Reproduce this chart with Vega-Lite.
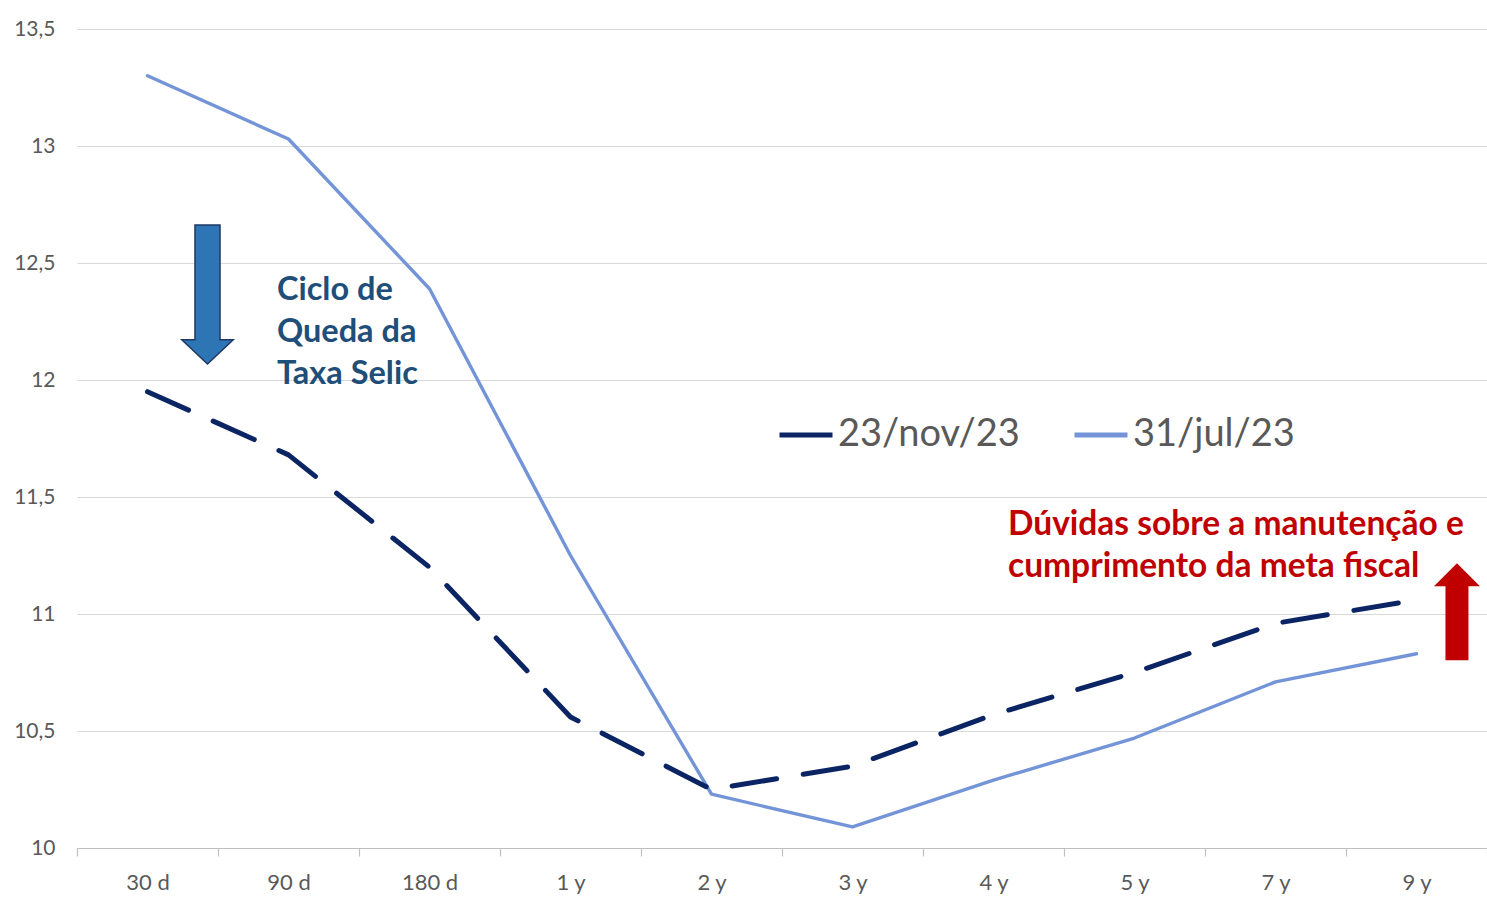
{
  "$schema": "https://vega.github.io/schema/vega-lite/v6.json",
  "width": 1410,
  "height": 819,
  "autosize": {"type": "none"},
  "padding": {"left": 77, "top": 29, "right": 0, "bottom": 61},
  "background": "#ffffff",
  "config": {
    "view": {"stroke": null},
    "font": "Lato"
  },
  "datasets": {
    "curvas": [
      {"prazo": "30 d", "i": 0, "serie": "31/jul/23", "taxa": 13.30},
      {"prazo": "90 d", "i": 1, "serie": "31/jul/23", "taxa": 13.03},
      {"prazo": "180 d", "i": 2, "serie": "31/jul/23", "taxa": 12.39},
      {"prazo": "1 y", "i": 3, "serie": "31/jul/23", "taxa": 11.25},
      {"prazo": "2 y", "i": 4, "serie": "31/jul/23", "taxa": 10.23},
      {"prazo": "3 y", "i": 5, "serie": "31/jul/23", "taxa": 10.09},
      {"prazo": "4 y", "i": 6, "serie": "31/jul/23", "taxa": 10.29},
      {"prazo": "5 y", "i": 7, "serie": "31/jul/23", "taxa": 10.47},
      {"prazo": "7 y", "i": 8, "serie": "31/jul/23", "taxa": 10.71},
      {"prazo": "9 y", "i": 9, "serie": "31/jul/23", "taxa": 10.83},
      {"prazo": "30 d", "i": 0, "serie": "23/nov/23", "taxa": 11.95},
      {"prazo": "90 d", "i": 1, "serie": "23/nov/23", "taxa": 11.68},
      {"prazo": "180 d", "i": 2, "serie": "23/nov/23", "taxa": 11.20},
      {"prazo": "1 y", "i": 3, "serie": "23/nov/23", "taxa": 10.56},
      {"prazo": "2 y", "i": 4, "serie": "23/nov/23", "taxa": 10.25},
      {"prazo": "3 y", "i": 5, "serie": "23/nov/23", "taxa": 10.35},
      {"prazo": "4 y", "i": 6, "serie": "23/nov/23", "taxa": 10.57},
      {"prazo": "5 y", "i": 7, "serie": "23/nov/23", "taxa": 10.75},
      {"prazo": "7 y", "i": 8, "serie": "23/nov/23", "taxa": 10.96},
      {"prazo": "9 y", "i": 9, "serie": "23/nov/23", "taxa": 11.06}
    ]
  },
  "encoding": {
    "x": {
      "field": "i", "type": "quantitative",
      "scale": {"domain": [-0.5, 9.5], "nice": false, "zero": false},
      "axis": {
        "values": [-0.5, 0.5, 1.5, 2.5, 3.5, 4.5, 5.5, 6.5, 7.5, 8.5, 9.5],
        "labelExpr": "['30 d','90 d','180 d','1 y','2 y','3 y','4 y','5 y','7 y','9 y',''][datum.value + 0.5]",
        "labelOffset": 70.5, "labelOverlap": false, "labelFlush": false, "labelBound": false,
        "ticks": true, "tickSize": 8, "tickColor": "#bfbfbf", "tickWidth": 1.2,
        "domain": true, "domainColor": "#bfbfbf", "domainWidth": 1.2,
        "grid": false, "title": null,
        "labelFont": "Lato", "labelFontSize": 22, "labelColor": "#595959",
        "labelPadding": 16, "labelBaseline": "top"
      }
    },
    "y": {
      "field": "taxa", "type": "quantitative",
      "scale": {"domain": [10, 13.5], "nice": false, "zero": false},
      "axis": {
        "values": [10, 10.5, 11, 11.5, 12, 12.5, 13, 13.5],
        "labelExpr": "replace(format(datum.value, '.1~f'), '.', ',')",
        "ticks": false, "domain": false, "grid": true,
        "gridColor": "#d9d9d9", "gridWidth": 1.2, "title": null,
        "labelFont": "Lato", "labelFontSize": 21, "labelColor": "#595959",
        "labelPadding": 22, "labelOverlap": false, "labelFlush": false
      }
    },
    "color": {
      "field": "serie", "type": "nominal",
      "scale": {"domain": ["23/nov/23", "31/jul/23"], "range": ["#0b2463", "#7494d8"]},
      "legend": {
        "title": null, "orient": "none", "legendX": 700, "legendY": 377,
        "direction": "horizontal", "symbolType": "stroke", "symbolSize": 2809,
        "symbolStrokeWidth": 5, "labelFont": "Lato", "labelFontSize": 38,
        "labelColor": "#595959", "labelOffset": 3, "columnPadding": 44, "labelLimit": 0
      }
    }
  },
  "layer": [
    {
      "data": {"name": "curvas"},
      "transform": [{"filter": "datum.serie == '31/jul/23'"}],
      "mark": {"type": "line", "strokeCap": "round", "strokeJoin": "round", "strokeWidth": 3.4}
    },
    {
      "data": {"name": "curvas"},
      "transform": [{"filter": "datum.serie == '23/nov/23'"}],
      "mark": {"type": "line", "strokeCap": "round", "strokeJoin": "round", "strokeWidth": 5, "strokeDash": [45, 27]}
    },
    {
      "data": {"values": [{"i": 0.4255, "taxa": 12.365}]},
      "mark": {
        "type": "point", "filled": true, "opacity": 1,
        "shape": "M-0.18,-1 L0.18,-1 L0.18,0.65 L0.37,0.65 L0,1 L-0.37,0.65 L-0.18,0.65 Z",
        "size": 19321, "fill": "#2e75b6", "stroke": "#1f3864", "strokeWidth": 1.5
      },
      "encoding": {"color": {"value": "#2e75b6"}}
    },
    {
      "data": {"values": [{"i": 9.287, "taxa": 11.01}]},
      "mark": {
        "type": "point", "filled": true, "opacity": 1,
        "shape": "M0,-1 L0.474,-0.526 L0.237,-0.526 L0.237,1 L-0.237,1 L-0.237,-0.526 L-0.474,-0.526 Z",
        "size": 9409, "fill": "#c00000", "strokeWidth": 0
      },
      "encoding": {"color": {"value": "#c00000"}}
    },
    {
      "data": {"values": [{"i": 0.918, "taxa": 12.342, "txt": "Ciclo de\nQueda da\nTaxa Selic"}]},
      "mark": {
        "type": "text", "align": "left", "baseline": "alphabetic", "lineBreak": "\n",
        "lineHeight": 42, "font": "Lato", "fontWeight": "bold", "fontSize": 32.5
      },
      "encoding": {"text": {"field": "txt"}, "color": {"value": "#1f4e79"}}
    },
    {
      "data": {"values": [{"i": 6.103, "taxa": 11.338, "txt": "Dúvidas sobre a manutenção e\ncumprimento da meta fiscal"}]},
      "mark": {
        "type": "text", "align": "left", "baseline": "alphabetic", "lineBreak": "\n",
        "lineHeight": 42, "font": "Lato", "fontWeight": "bold", "fontSize": 33.5
      },
      "encoding": {"text": {"field": "txt"}, "color": {"value": "#c00000"}}
    }
  ]
}
